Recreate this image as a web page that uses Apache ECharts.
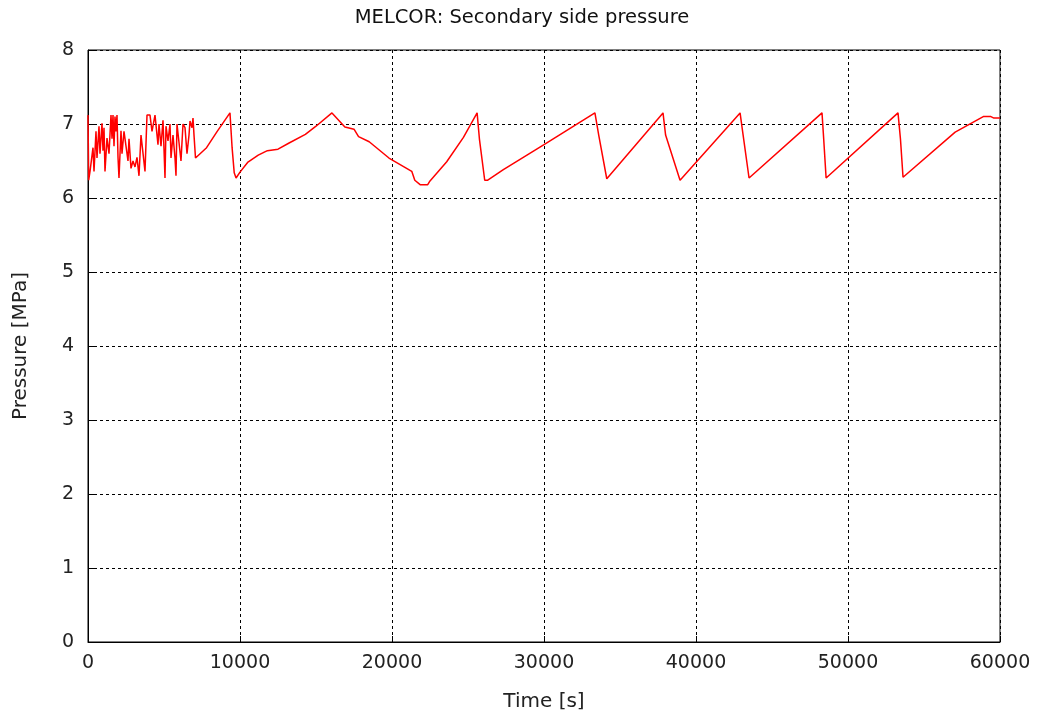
<!DOCTYPE html>
<html>
<head>
<meta charset="utf-8">
<script src="https://cdn.jsdelivr.net/npm/echarts@6/dist/echarts.min.js"></script>
<style>html,body{margin:0;padding:0;background:#fff;}#c{width:1044px;height:719px;}</style>
</head>
<body>
<div id="c"></div>
<script>
const titleText = "MELCOR: Secondary side pressure";
const xName = "Time [s]";
const yName = "Pressure [MPa]";

// early oscillating phase
const noiseTime = [0,46,132,263,329,395,526,592,724,789,921,987,1053,1118,1250,1382,1513,1579,1645,1711,1776,1842,1908,1974,2039,2171,2237,2368,2500,2632,2697,2829,2961,3092,3224,3355,3487,3750,3882,4079,4211,4408,4605,4671,4803,4934,5066,5132,5263,5395,5461,5592,5724,5789,5855,5987,6118,6250,6382,6513,6645,6711,6842,6908,6974,7072];
const noisePressure = [7.12,6.24,6.36,6.38,6.68,6.36,6.90,6.54,6.97,6.60,7.01,6.64,6.95,6.36,6.81,6.60,7.12,6.80,7.12,6.70,7.10,6.90,7.12,6.55,6.27,6.91,6.60,6.90,6.70,6.50,6.80,6.40,6.50,6.42,6.55,6.30,6.85,6.36,7.12,7.12,6.90,7.12,6.72,7.00,6.70,7.05,6.27,6.97,6.77,7.00,6.54,6.85,6.54,6.30,7.00,6.75,6.50,7.00,6.95,6.60,6.85,7.04,6.95,7.08,6.85,6.54];

// later cycling phase
const cycleTime = [7800,8500,9340,9480,9620,9740,10000,10500,11200,11800,12500,13200,14300,15000,16050,16900,17500,17800,18500,19800,21300,21500,21850,22350,22500,23600,24700,25600,25750,26100,26300,27300,30000,33350,33600,34130,37830,38000,38950,42900,43100,43490,48290,48400,48560,53290,53450,53620,57050,58900,59400,59600,60000];
const cyclePressure = [6.68,6.90,7.15,6.68,6.34,6.27,6.35,6.48,6.58,6.64,6.66,6.74,6.86,6.97,7.15,6.96,6.93,6.83,6.76,6.54,6.36,6.24,6.18,6.18,6.23,6.49,6.82,7.15,6.80,6.24,6.24,6.38,6.72,7.15,6.85,6.26,7.15,6.85,6.24,7.15,6.85,6.27,7.15,6.80,6.27,7.15,6.80,6.28,6.89,7.10,7.10,7.08,7.08];

const xTicks = [0,10000,20000,30000,40000,50000,60000];
const yTicks = [0,1,2,3,4,5,6,7,8];

const times = noiseTime.concat(cycleTime);
const pressures = noisePressure.concat(cyclePressure);
const seriesData = times.map((t,i)=>[t,pressures[i]]);

const chart = echarts.init(document.getElementById('c'), null, {renderer:'canvas'});
const font = '"DejaVu Sans", sans-serif';
chart.setOption({
  animation:false,
  backgroundColor:'#ffffff',
  title:{text:titleText,left:'center',top:3,textStyle:{fontFamily:font,fontSize:19.5,fontWeight:'normal',color:'#111'}},
  grid:{left:88,right:44,top:50,bottom:77,show:true,borderColor:'#000',borderWidth:1,backgroundColor:'transparent'},
  xAxis:{type:'value',min:xTicks[0],max:xTicks[xTicks.length-1],interval:10000,
    name:xName,nameLocation:'middle',nameGap:50,nameTextStyle:{fontFamily:font,fontSize:20,color:'#222'},
    axisLine:{show:true,lineStyle:{color:'#000',width:1}},
    axisTick:{show:true,inside:true,length:6,lineStyle:{color:'#000'}},
    axisLabel:{fontFamily:font,fontSize:19,color:'#222',margin:12,formatter:v=>String(v)},
    splitLine:{show:true,lineStyle:{color:'#000',type:[3,3],width:1}}},
  yAxis:{type:'value',min:yTicks[0],max:yTicks[yTicks.length-1],interval:1,
    name:yName,nameLocation:'middle',nameGap:57,nameRotate:90,nameTextStyle:{fontFamily:font,fontSize:20,color:'#222'},
    axisLine:{show:true,lineStyle:{color:'#000',width:1}},
    axisTick:{show:true,inside:true,length:6,lineStyle:{color:'#000'}},
    axisLabel:{fontFamily:font,fontSize:19,color:'#222',margin:14},
    splitLine:{show:true,lineStyle:{color:'#000',type:[3,3],width:1}}},
  series:[{type:'line',data:seriesData,showSymbol:false,symbol:'none',
    lineStyle:{color:'#ff0000',width:1.5},itemStyle:{color:'#ff0000'}}]
});
</script>
</body>
</html>
